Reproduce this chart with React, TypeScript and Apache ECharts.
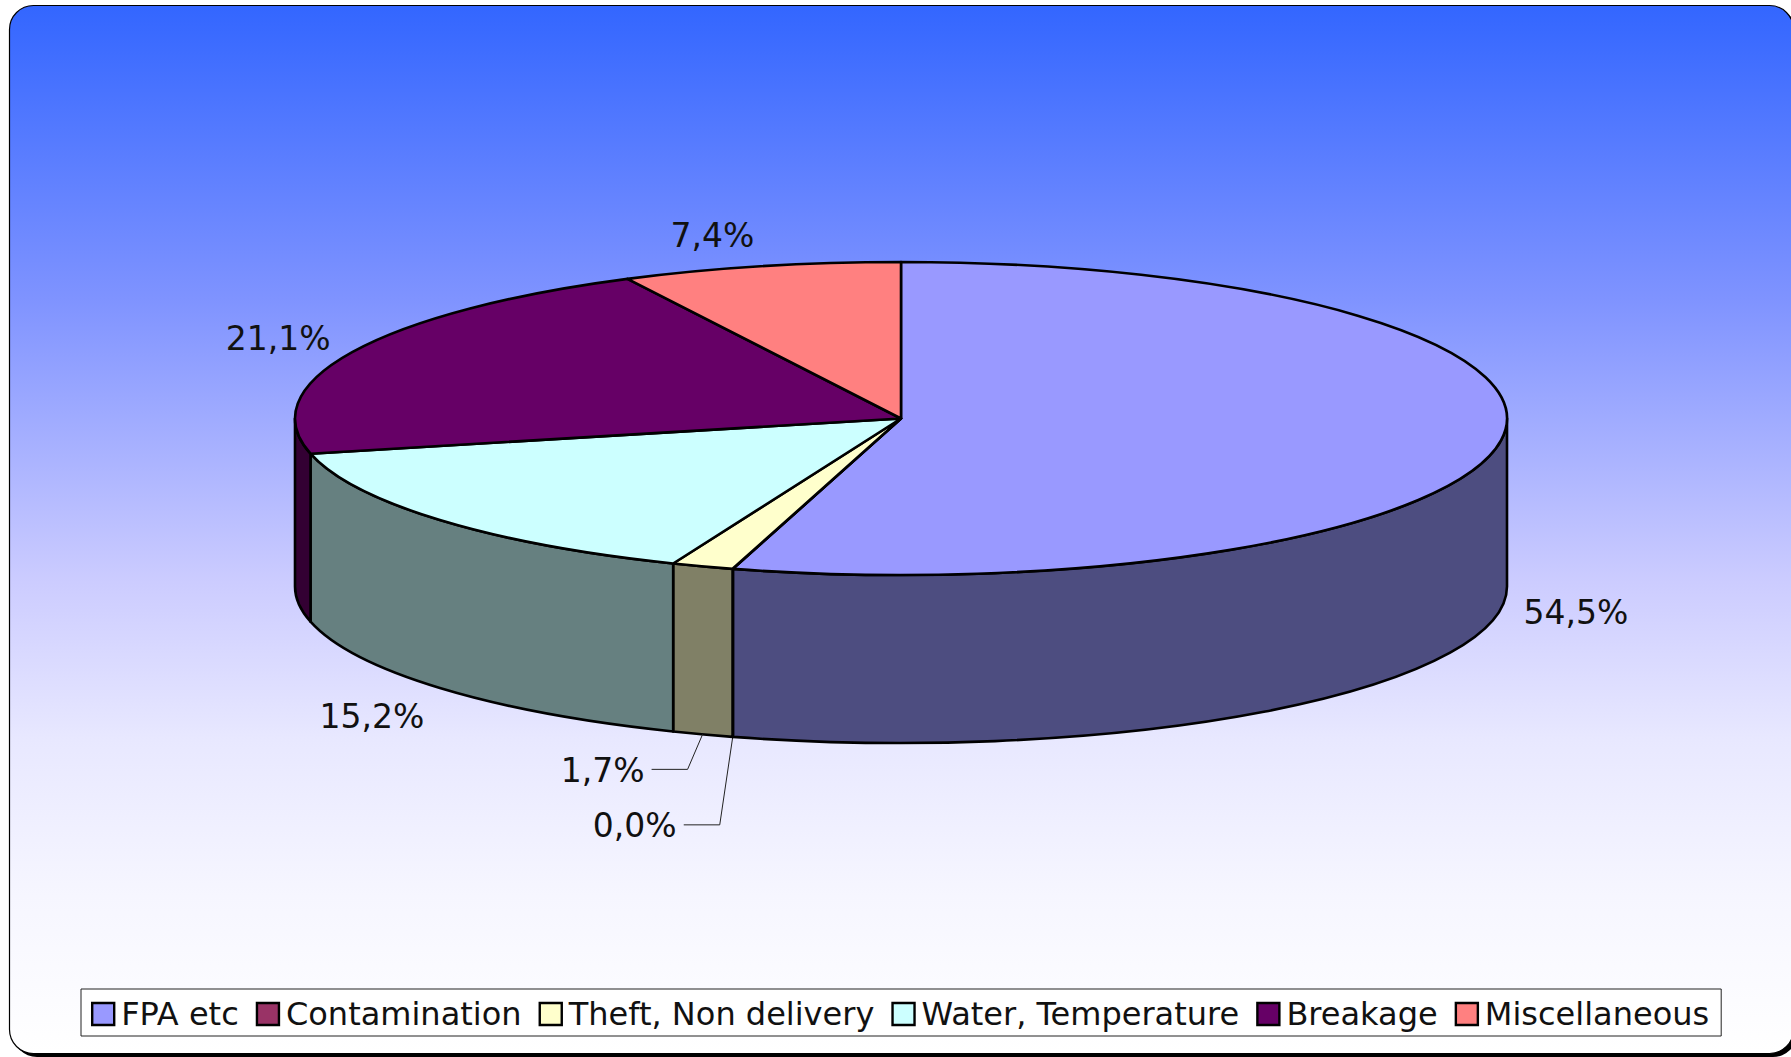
import React, { useEffect, useRef } from "react";
import * as echarts from "echarts";

const categories = ["FPA etc", "Contamination", "Theft, Non delivery", "Water, Temperature", "Breakage", "Miscellaneous"];
const sharePercent = [54.45, 0.01, 1.651, 15.249, 21.149, 7.449];
const topColors = ["#9999FF", "#993366", "#FFFFCC", "#CCFFFF", "#660066", "#FF8080"];
const wallColors = ["#4D4D80", "#4D1A33", "#808066", "#668080", "#330033", "#804040"];
const labelOffsets = [[75, 172], [-98, 257], [-100, 204], [-68, 196], [-74, -14], [-48, -31]];
const leaderSlices = [1, 2];

const CX = 901, CY = 418.5, RX = 606, RY = 156.5, DEPTH = 168;
const FONT = "'DejaVu Sans', Verdana, sans-serif";

const total = sharePercent.reduce((a, b) => a + b, 0);
const pt = (deg: number, dy = 0): [number, number] => {
  const r = (deg * Math.PI) / 180;
  return [CX + RX * Math.sin(r), CY - RY * Math.cos(r) + dy];
};
const arcTo = (from: number, to: number, dy: number, cw: boolean) => {
  const [x, y] = pt(to, dy);
  const large = Math.abs(to - from) > 180 ? 1 : 0;
  return `A${RX} ${RY} 0 ${large} ${cw ? 1 : 0} ${x} ${y}`;
};

function renderSlice(index: number, api: any) {
  const value = api.value(0);
  const before = sharePercent.slice(0, index).reduce((a, b) => a + b, 0);
  const a0 = (before / total) * 360;
  const a1 = a0 + (value / total) * 360;
  const mid = (a0 + a1) / 2;
  const children: any[] = [];

  const w0 = Math.max(a0, 90), w1 = Math.min(a1, 270);
  if (w1 > w0) {
    const s = pt(w0), e = pt(w1, DEPTH);
    const d = `M${s[0]} ${s[1]} ${arcTo(w0, w1, 0, true)} L${e[0]} ${e[1]} ${arcTo(w1, w0, DEPTH, false)} Z`;
    children.push({
      type: "path",
      shape: { pathData: d },
      style: { fill: wallColors[index], stroke: "#000", lineWidth: 2.6, lineJoin: "round" },
    });
  }

  const s = pt(a0);
  const top = `M${CX} ${CY} L${s[0]} ${s[1]} ${arcTo(a0, a1, 0, true)} Z`;
  children.push({
    type: "path",
    shape: { pathData: top },
    style: { fill: topColors[index], stroke: "#000", lineWidth: 2.6, lineJoin: "round" },
  });

  const [ax, ay] = pt(mid);
  const lx = ax + labelOffsets[index][0];
  const ly = ay + labelOffsets[index][1];
  if (leaderSlices.includes(index)) {
    const sx = lx + 49, sy = ly - 1;
    children.push({
      type: "polyline",
      shape: { points: [[sx, sy], [sx + 36, sy], [ax, ay + DEPTH]] },
      style: { fill: "none", stroke: "#222", lineWidth: 1 },
    });
  }
  children.push({
    type: "text",
    x: lx,
    y: ly,
    style: {
      text: `${value.toFixed(1).replace(".", ",")}%`,
      fill: "#111",
      font: `33px ${FONT}`,
      align: "center",
      verticalAlign: "middle",
    },
  });
  return { type: "group", children };
}

export default function App() {
  const ref = useRef<HTMLDivElement>(null);
  useEffect(() => {
    document.body.style.margin = "0";
    const chart = echarts.init(ref.current!, null, { renderer: "svg" });
    chart.setOption({
      animation: false,
      backgroundColor: "#fff",
      graphic: {
        elements: [
          {
            type: "rect", z: -2, silent: true,
            shape: { x: 13, y: 9, width: 1784, height: 1048, r: 24 },
            style: { fill: "#000" },
          },
          {
            type: "rect", z: -1, silent: true,
            shape: { x: 9.5, y: 5.5, width: 1784, height: 1048, r: 24 },
            style: {
              stroke: "#000", lineWidth: 1.2,
              fill: new echarts.graphic.LinearGradient(0, 0, 0, 1, [
                { offset: 0, color: "#3366FF" },
                { offset: 0.28, color: "#7F93FF" },
                { offset: 0.55, color: "#CCCCFF" },
                { offset: 0.7, color: "#E8E8FF" },
                { offset: 0.85, color: "#F6F6FF" },
                { offset: 1, color: "#FFFFFF" },
              ]),
            },
          },
        ],
      },
      legend: {
        left: 81, top: 989,
        orient: "horizontal",
        data: categories,
        icon: "rect",
        itemWidth: 22, itemHeight: 22, itemGap: 17,
        padding: [9, 12, 6, 10],
        backgroundColor: "#fff",
        borderColor: "#222", borderWidth: 1,
        selectedMode: false,
        itemStyle: { borderColor: "#000", borderWidth: 2.4 },
        textStyle: { fontFamily: "DejaVu Sans", fontSize: 32, color: "#111", padding: [3, 0, 0, 2] },
      },
      series: categories.map((name, i) => ({
        type: "custom",
        name,
        coordinateSystem: "none",
        silent: true,
        itemStyle: { color: topColors[i] },
        data: [[sharePercent[i]]],
        renderItem: (_: any, api: any) => renderSlice(i, api),
      })),
    });
    return () => chart.dispose();
  }, []);
  return <div ref={ref} style={{ width: 1791, height: 1057 }} />;
}
